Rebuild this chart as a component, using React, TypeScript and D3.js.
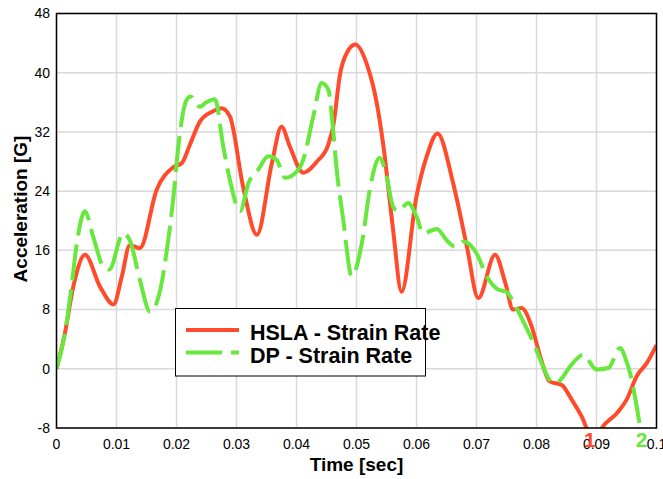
import React from "react";
import * as d3 from "d3";

const xTicks = [0, 0.01, 0.02, 0.03, 0.04, 0.05, 0.06, 0.07, 0.08, 0.09, 0.1];
const xTickLabels = ["0", "0.01", "0.02", "0.03", "0.04", "0.05", "0.06", "0.07", "0.08", "0.09", "0.1"];
const yTicks = [-8, 0, 8, 16, 24, 32, 40, 48];
const yTickLabels = ["-8", "0", "8", "16", "24", "32", "40", "48"];

const hslaTime = [0, 0.0014, 0.0028, 0.00475, 0.00725, 0.0095, 0.0109, 0.0122, 0.0139, 0.0167, 0.0194, 0.0209, 0.0222, 0.0239, 0.0261, 0.0275, 0.0289, 0.0311, 0.0334, 0.0359, 0.0375, 0.0389, 0.0411, 0.0434, 0.0453, 0.0461, 0.0473, 0.0484, 0.0498, 0.0517, 0.0534, 0.0545, 0.0561, 0.0575, 0.06, 0.0617, 0.0635, 0.0661, 0.0684, 0.0703, 0.0731, 0.0748, 0.0761, 0.0775, 0.0792, 0.0806, 0.0822, 0.0842, 0.0859, 0.0875, 0.0897, 0.0909, 0.0934, 0.095, 0.0967, 0.0984, 0.1];
const hslaValue = [0, 4.8, 11.1, 15.4, 11.1, 8.7, 12.5, 16.7, 16.3, 24.2, 27.2, 27.8, 30.2, 33.4, 34.8, 35.2, 34.1, 24.6, 18.1, 27.8, 32.7, 30.0, 26.5, 28.0, 30.3, 32.7, 40, 42.7, 43.8, 41.2, 35.8, 30.0, 18.8, 10.4, 23.3, 28.7, 31.8, 25.1, 16.5, 9.55, 15.4, 11.6, 8.0, 8.2, 5.7, 1.7, -1.7, -2.2, -4.2, -6.4, -10, -8.0, -6.0, -4.2, -1.0, 0.8, 3.2];

const dpTime = [0, 0.0014, 0.0025, 0.0034, 0.00475, 0.0061, 0.0078, 0.0088, 0.0111, 0.0122, 0.0139, 0.0156, 0.0173, 0.0184, 0.0195, 0.0203, 0.0216, 0.0223, 0.0239, 0.0248, 0.0264, 0.0278, 0.0289, 0.0306, 0.032, 0.0336, 0.0353, 0.0367, 0.0381, 0.0403, 0.0411, 0.0428, 0.0442, 0.0453, 0.0461, 0.0467, 0.0478, 0.0492, 0.0509, 0.0523, 0.0539, 0.055, 0.0561, 0.057, 0.0586, 0.06, 0.0611, 0.0634, 0.065, 0.0664, 0.0678, 0.07, 0.0717, 0.0736, 0.075, 0.0764, 0.0778, 0.0795, 0.0811, 0.0822, 0.0834, 0.0842, 0.0856, 0.0878, 0.09, 0.092, 0.0939, 0.095, 0.0956, 0.0967, 0.0973, 0.098];
const dpValue = [0, 4.8, 11.1, 17, 21.3, 17.9, 13.8, 13.4, 18.3, 17.4, 12, 7.7, 10.7, 16.1, 23.3, 30, 36.2, 36.8, 35.4, 35.9, 36.4, 30, 25.5, 21.3, 25.1, 26.9, 28.7, 28.2, 25.8, 26.9, 28.2, 34.1, 38.6, 37.7, 32.3, 26.9, 20.1, 12.5, 17, 24.6, 28.5, 26, 21.9, 21.3, 22.4, 20.6, 18.3, 18.9, 17.4, 16.5, 17.2, 15.6, 12.5, 10.7, 10.4, 8.6, 6.4, 3.5, 0.3, -1.5, -1.9, -1.3, 0.3, 1.9, -0.1, 0.1, 2.8, 1.0, -0.6, -5.1, -8.0, -11];

const seriesNames = ["HSLA - Strain Rate", "DP - Strain Rate"];
const seriesColors = ["#ff4b2b", "#66e83c"];
const markerLabels = ["1", "2"];
const markerTimes = [0.0889, 0.0975];

const W = 663;
const H = 479;
const FONT = "'Liberation Sans', Arial, Helvetica, sans-serif";

export default function App() {
  const x = d3.scaleLinear().domain([0, 0.1]).range([56.5, 656.5]);
  const y = d3.scaleLinear().domain([-8, 48]).range([428, 13.5]);
  const line = d3
    .line<[number, number]>()
    .x((d) => x(d[0]))
    .y((d) => y(d[1]))
    .curve(d3.curveMonotoneX);
  const hsla = hslaTime.map((t, i) => [t, hslaValue[i]] as [number, number]);
  const dp = dpTime.map((t, i) => [t, dpValue[i]] as [number, number]);
  const [x0, x1] = x.range();
  const [yb, yt] = y.range();

  return (
    <svg
      width={W}
      height={H}
      style={{ position: "absolute", left: 0, top: 0, display: "block", background: "#fff" }}
      fontFamily={FONT}
    >
      <defs>
        <clipPath id="plotClip">
          <rect x={x0} y={yt} width={x1 - x0} height={yb - yt} />
        </clipPath>
      </defs>
      <rect x={0} y={0} width={W} height={H} fill="#fff" />
      {xTicks.map((t) => (
        <line key={"gx" + t} x1={x(t)} x2={x(t)} y1={yt} y2={yb} stroke="#d9d9d9" strokeWidth={1.5} />
      ))}
      {yTicks.map((v) => (
        <line key={"gy" + v} x1={x0} x2={x1} y1={y(v)} y2={y(v)} stroke="#d9d9d9" strokeWidth={1.5} />
      ))}
      <g clipPath="url(#plotClip)">
        <path d={line(hsla) || ""} fill="none" stroke={seriesColors[0]} strokeWidth={4} strokeLinejoin="round" />
        <path d={line(dp) || ""} fill="none" stroke={seriesColors[1]} strokeWidth={4} strokeDasharray="36 9" strokeLinejoin="round" />
      </g>
      <rect x={x0} y={yt} width={x1 - x0} height={yb - yt} fill="none" stroke="#000" strokeWidth={1.5} />
      {xTicks.map((t, i) => (
        <text key={"tx" + t} x={x(t)} y={449} textAnchor="middle" fontSize={14} fill="#000">
          {xTickLabels[i]}
        </text>
      ))}
      {yTicks.map((v, i) => (
        <text key={"ty" + v} x={50} y={y(v)} dy="0.35em" textAnchor="end" fontSize={14} fill="#000">
          {yTickLabels[i]}
        </text>
      ))}
      <text
        transform={`translate(27,209) rotate(-90)`}
        textAnchor="middle"
        fontSize={19}
        fontWeight="bold"
        fill="#000"
      >
        Acceleration [G]
      </text>
      <text x={(x0 + x1) / 2} y={471} textAnchor="middle" fontSize={19} fontWeight="bold" fill="#000">
        Time [sec]
      </text>
      <rect x={175.5} y={308.5} width={250} height={67.5} fill="#fff" stroke="#000" strokeWidth={1} />
      {seriesNames.map((name, i) => (
        <g key={name}>
          <line
            x1={186}
            x2={239}
            y1={330 + i * 22.5}
            y2={330 + i * 22.5}
            stroke={seriesColors[i]}
            strokeWidth={4}
            strokeDasharray={i === 1 ? "36 9" : undefined}
          />
          <text x={250} y={340 + i * 22.5} fontSize={21.5} fontWeight="bold" fill="#000">
            {name}
          </text>
        </g>
      ))}
      {markerLabels.map((m, i) => (
        <text key={m} x={x(markerTimes[i])} y={447} textAnchor="middle" fontSize={21} fontWeight="bold" fill={seriesColors[i]}>
          {m}
        </text>
      ))}
    </svg>
  );
}
